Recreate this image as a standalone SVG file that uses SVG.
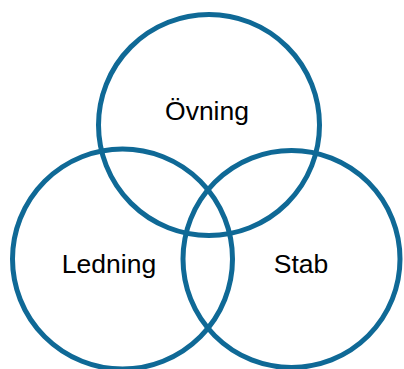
<svg xmlns="http://www.w3.org/2000/svg" width="404" height="369" viewBox="0 0 404 369">
<style>
.c{fill:none;stroke:#0f6996;stroke-width:5}
.t{font-family:"Liberation Sans",Arial,sans-serif;font-size:26.5px;fill:#000;text-anchor:middle}
</style>
<rect width="404" height="369" fill="#fff"/>
<g id="ovning"><circle class="c" cx="209" cy="125" r="110.5"/><text class="t" x="207" y="120">Övning</text></g>
<g id="ledning"><circle class="c" cx="122.5" cy="259" r="110"/><text class="t" x="109" y="273">Ledning</text></g>
<g id="stab"><circle class="c" cx="291.5" cy="259" r="108.5"/><text class="t" x="301" y="273">Stab</text></g>
<g id="connectors"/>
</svg>
